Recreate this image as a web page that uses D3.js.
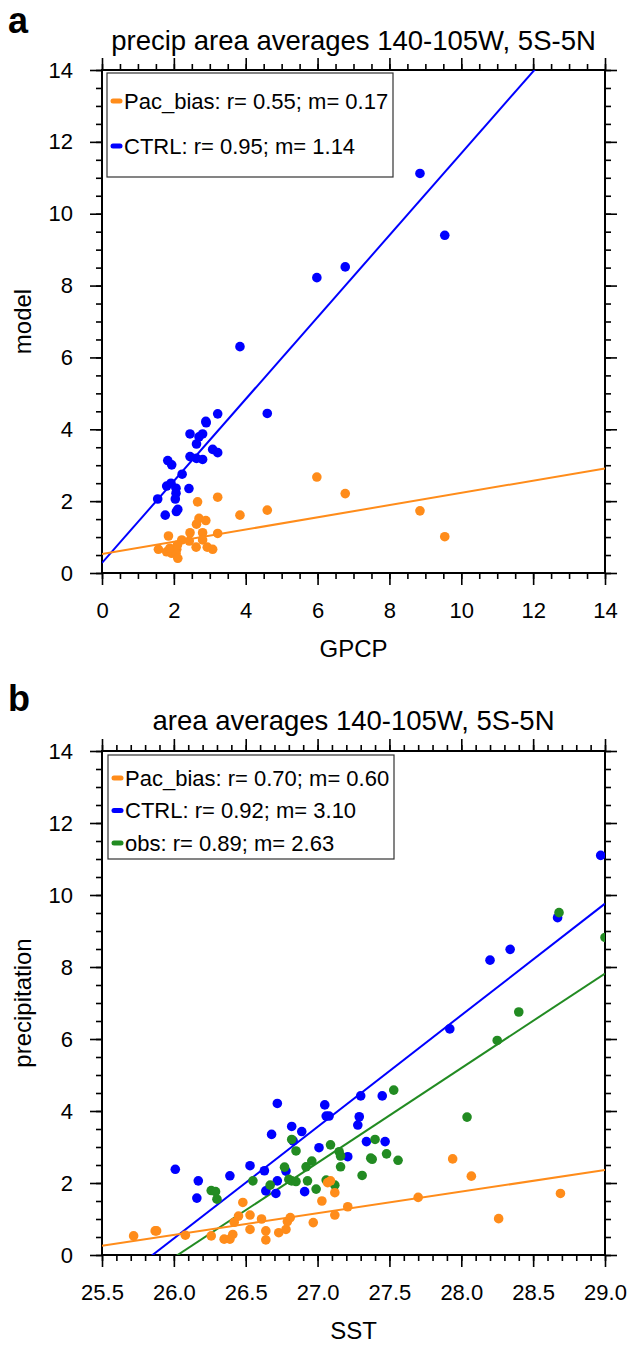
<!DOCTYPE html>
<html>
<head>
<meta charset="utf-8">
<script src="https://cdn.jsdelivr.net/npm/d3@7"></script>
<style>
  body { margin: 0; background: #fff; }
  text { font-family: "Liberation Sans", Arial, sans-serif; fill: #000; }
</style>
</head>
<body>
<svg id="chart" width="632" height="1346"></svg>
<script>
// panel a: GPCP vs model
var ctrlGpcp  = [3.84,4.60,3.22,2.89,2.90,2.45,2.70,2.80,2.63,3.08,3.22,2.45,2.63,2.80,1.83,1.94,2.23,1.80,1.92,2.06,2.42,2.06,1.55,2.04,2.11,2.07,1.76,8.85,9.54,6.77,5.98];
var ctrlModel = [6.30,4.44,4.43,4.22,4.18,3.87,3.79,3.87,3.59,3.44,3.35,3.24,3.19,3.16,3.13,3.01,2.75,2.42,2.50,2.36,2.35,2.22,2.06,2.06,1.77,1.71,1.61,11.12,9.40,8.52,8.22];
var pacGpcp   = [5.98,6.77,4.60,8.85,9.54,3.84,3.22,2.66,2.70,2.89,2.63,2.45,2.80,3.22,1.85,2.22,2.43,2.80,2.62,2.93,3.08,1.57,1.80,1.94,2.08,2.06,2.11,1.89,2.10];
var pacModel  = [2.67,2.21,1.75,1.73,1.01,1.61,2.11,1.98,1.52,1.46,1.36,1.12,1.12,1.10,1.03,0.92,0.89,0.92,0.72,0.72,0.66,0.66,0.59,0.55,0.66,0.55,0.41,0.69,0.78];

// panel b: SST vs precipitation
var ctrlSst    = [26.01,26.17,26.16,26.39,26.53,26.63,26.72,26.68,26.82,26.89,26.83,26.64,26.71,26.72,26.78,26.91,27.01,27.05,27.06,27.08,27.21,27.30,27.45,27.29,27.28,27.34,27.47,27.92,28.20,28.34,28.67,28.97];
var ctrlPrecip = [2.38,2.06,1.58,2.20,2.48,2.34,4.21,3.35,3.57,3.43,3.17,1.78,1.71,2.06,2.33,1.76,2.98,4.17,3.86,3.86,2.73,4.42,4.42,3.84,3.61,3.15,3.15,6.28,8.19,8.49,9.37,11.10];
var obsSst     = [26.26,26.29,26.30,26.55,26.67,26.77,26.80,26.82,26.85,26.82,26.85,26.92,26.96,26.93,26.99,27.06,27.09,27.15,27.16,27.16,27.12,27.31,27.37,27.38,27.40,27.48,27.53,27.56,28.04,28.25,28.40,28.68,29.00];
var obsPrecip  = [1.79,1.76,1.55,2.06,1.94,2.44,2.10,2.06,2.04,3.21,2.89,2.45,2.61,2.06,1.83,2.08,3.06,2.87,2.75,2.45,1.94,2.21,2.69,2.66,3.21,2.81,4.58,2.63,3.83,5.96,6.75,9.51,8.82];
var pacSst     = [25.72,25.87,25.88,26.08,26.26,26.35,26.39,26.41,26.42,26.45,26.48,26.53,26.53,26.61,26.64,26.64,26.73,26.78,26.79,26.81,26.97,27.03,27.07,27.09,27.12,27.12,27.21,27.70,27.94,28.07,28.26,28.69];
var pacPrecip  = [0.53,0.67,0.67,0.55,0.53,0.44,0.44,0.57,0.91,1.08,1.46,1.11,0.71,1.00,0.67,0.42,0.62,0.71,0.93,1.04,0.90,1.50,2.01,2.06,1.73,1.11,1.34,1.60,2.67,2.19,1.01,1.71];

// regression lines [slope, intercept], legend text
var fitA = { pac: [0.17, 0.53], ctrl: [1.14, 0.28] };
var fitB = { pac: [0.60, -15.04], ctrl: [3.10, -80.14], obs: [2.63, -68.45] };
var legendA = ["Pac_bias: r= 0.55; m= 0.17", "CTRL: r= 0.95; m= 1.14"];
var legendB = ["Pac_bias: r= 0.70; m= 0.60", "CTRL: r= 0.92; m= 3.10", "obs: r= 0.89; m= 2.63"];

var xTicksA = [0, 2, 4, 6, 8, 10, 12, 14];
var xTicksB = [25.5, 26.0, 26.5, 27.0, 27.5, 28.0, 28.5, 29.0];
var yTicks  = [0, 2, 4, 6, 8, 10, 12, 14];

var colPac = "#ff8c1a", colCtrl = "#0000ff", colObs = "#228b22";

var svg = d3.select("#chart");

function zip(xs, ys) { return xs.map(function(d, i) { return [d, ys[i]]; }); }

function drawPanel(p) {
  var width = 503, height = p.height;
  var x = d3.scaleLinear().domain(p.xDomain).range([0, width]);
  var y = d3.scaleLinear().domain([0, 14]).range([height, 0]);

  var g = svg.append("g").attr("transform", "translate(" + p.left + "," + p.top + ")");

  svg.append("text")
    .attr("x", 8).attr("y", p.top + p.letterY)
    .attr("font-size", 36).attr("font-weight", "bold")
    .text(p.letter);

  g.append("text")
    .attr("x", width / 2).attr("y", p.titleY)
    .attr("text-anchor", "middle").attr("font-size", 27.5)
    .text(p.title);

  g.append("defs").append("clipPath").attr("id", "clip" + p.letter)
    .append("rect").attr("width", width).attr("height", height);

  // minor ticks
  var minorX = d3.range(p.xDomain[0], p.xDomain[1] + 1e-9, p.xMinor);
  var minorY = d3.range(0, 14.0001, 0.5);
  function addAxis(axis, tr, cls) {
    var a = g.append("g").attr("class", cls).attr("transform", tr).call(axis);
    a.select(".domain").remove();
    a.selectAll(".tick line").attr("stroke", "#000").attr("stroke-width", 1.6);
    return a;
  }
  addAxis(d3.axisBottom(x).tickValues(minorX).tickSize(6).tickFormat(""), "translate(0," + height + ")", "minor");
  addAxis(d3.axisTop(x).tickValues(minorX).tickSize(6).tickFormat(""), null, "minor");
  addAxis(d3.axisLeft(y).tickValues(minorY).tickSize(6).tickFormat(""), null, "minor");
  addAxis(d3.axisRight(y).tickValues(minorY).tickSize(6).tickFormat(""), "translate(" + width + ",0)", "minor");

  addAxis(d3.axisBottom(x).tickValues(p.xTicks).tickSize(12).tickPadding(17).tickFormat(p.xFormat), "translate(0," + height + ")", "major");
  addAxis(d3.axisTop(x).tickValues(p.xTicks).tickSize(12).tickFormat(""), null, "major");
  addAxis(d3.axisLeft(y).tickValues(yTicks).tickSize(12).tickPadding(17).tickFormat(d3.format("d")), null, "major");
  addAxis(d3.axisRight(y).tickValues(yTicks).tickSize(12).tickFormat(""), "translate(" + width + ",0)", "major");
  g.selectAll(".major text").attr("font-size", 22).attr("font-family", "Liberation Sans, Arial, sans-serif").attr("fill", "#000");

  g.append("rect").attr("width", width).attr("height", height)
    .attr("fill", "none").attr("stroke", "#000").attr("stroke-width", 2);

  // axis titles
  g.append("text")
    .attr("x", width / 2).attr("y", height + 84)
    .attr("text-anchor", "middle").attr("font-size", 24)
    .text(p.xLabel);
  g.append("text")
    .attr("transform", "translate(" + (31 - p.left) + "," + (height / 2) + ") rotate(-90)")
    .attr("text-anchor", "middle").attr("font-size", 24)
    .text(p.yLabel);

  // regression lines
  var plot = g.append("g").attr("clip-path", "url(#clip" + p.letter + ")");
  p.series.forEach(function(s) {
    var x0 = p.xDomain[0], x1 = p.xDomain[1];
    plot.append("line")
      .attr("x1", x(x0)).attr("y1", y(s.fit[0] * x0 + s.fit[1]))
      .attr("x2", x(x1)).attr("y2", y(s.fit[0] * x1 + s.fit[1]))
      .attr("stroke", s.color).attr("stroke-width", 2);
  });
  p.series.forEach(function(s) {
    plot.selectAll(null).data(s.points).enter().append("circle")
      .attr("cx", function(d) { return x(d[0]); })
      .attr("cy", function(d) { return y(d[1]); })
      .attr("r", 4.8)
      .attr("fill", s.color);
  });

  // legend
  var lg = g.append("g").attr("transform", "translate(" + p.legend.x + "," + p.legend.y + ")");
  lg.append("rect").attr("width", 286).attr("height", p.legend.h)
    .attr("fill", "#fff").attr("stroke", "#333").attr("stroke-width", 1.2);
  p.legend.items.forEach(function(it, i) {
    var cy = p.legend.first + i * p.legend.step;
    lg.append("line").attr("x1", 6).attr("x2", 13).attr("y1", cy).attr("y2", cy)
      .attr("stroke", it.color).attr("stroke-width", 5).attr("stroke-linecap", "round");
    lg.append("text").attr("x", 17).attr("y", cy).attr("dy", "0.36em")
      .attr("font-size", 22).text(it.label);
  });
}

drawPanel({
  letter: "a", left: 102, top: 70, height: 503, letterY: -37,
  title: "precip area averages 140-105W, 5S-5N", titleY: -20,
  xDomain: [0, 14], xTicks: xTicksA, xMinor: 0.5, xFormat: d3.format("d"),
  xLabel: "GPCP", yLabel: "model",
  series: [
    { color: colCtrl, fit: fitA.ctrl, points: zip(ctrlGpcp, ctrlModel) },
    { color: colPac, fit: fitA.pac, points: zip(pacGpcp, pacModel) }
  ],
  legend: { x: 5, y: 3, h: 104, first: 28, step: 45,
    items: [{ color: colPac, label: legendA[0] }, { color: colCtrl, label: legendA[1] }] }
});

drawPanel({
  letter: "b", left: 102, top: 751, height: 504, letterY: -40,
  title: "area averages 140-105W, 5S-5N", titleY: -21,
  xDomain: [25.5, 29.0], xTicks: xTicksB, xMinor: 0.1, xFormat: d3.format(".1f"),
  xLabel: "SST", yLabel: "precipitation",
  series: [
    { color: colCtrl, fit: fitB.ctrl, points: zip(ctrlSst, ctrlPrecip) },
    { color: colObs, fit: fitB.obs, points: zip(obsSst, obsPrecip) },
    { color: colPac, fit: fitB.pac, points: zip(pacSst, pacPrecip) }
  ],
  legend: { x: 6, y: 4, h: 104, first: 23, step: 32.5,
    items: [{ color: colPac, label: legendB[0] }, { color: colCtrl, label: legendB[1] }, { color: colObs, label: legendB[2] }] }
});
</script>
</body>
</html>
